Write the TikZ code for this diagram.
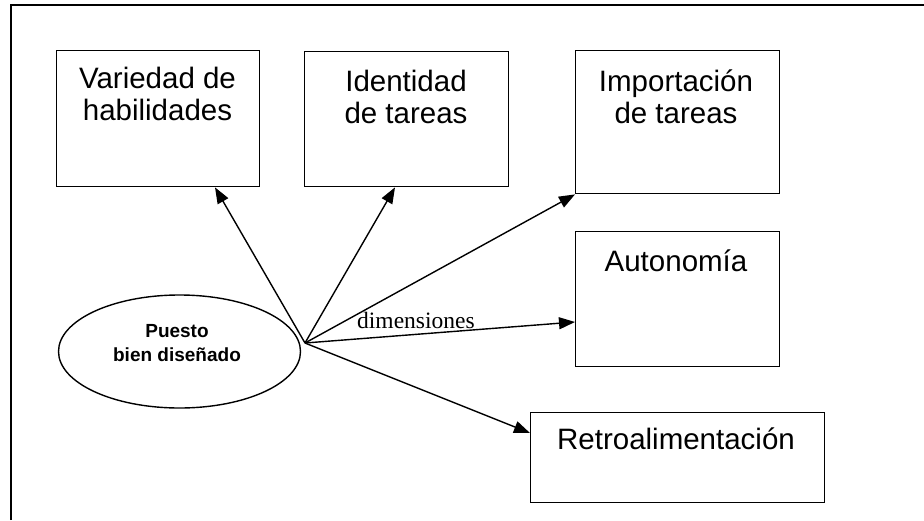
\documentclass[tikz,border=0pt]{standalone}
\usepackage{fontspec}
\setmainfont{Liberation Sans}
\newfontfamily\serifont{Liberation Serif}
\usetikzlibrary{arrows.meta,shapes.geometric}
\begin{document}
\begin{tikzpicture}[x=1pt,y=-1pt,
  box/.style={draw, line width=1.4pt, inner sep=0pt, anchor=north west},
  boxtext/.style={anchor=north, inner sep=0pt, align=center, font=\fontsize{29.5}{32}\selectfont},
  arr/.style={line width=1.4pt, -{Triangle[length=16pt,width=12pt]}}]
\useasboundingbox (0,0) rectangle (924,520);
\draw[line width=1.5pt] (11,520) -- (11,5) -- (924,5);
% boxes
\node[box, minimum width=203pt, minimum height=136pt] (v) at (56,50) {};
\node[box, minimum width=204pt, minimum height=135pt] (i) at (304,51) {};
\node[box, minimum width=204pt, minimum height=143pt] (imp) at (575,50) {};
\node[box, minimum width=204pt, minimum height=135pt] (aut) at (575,231) {};
\node[box, minimum width=294pt, minimum height=90pt] (ret) at (530,412) {};
\node[draw, ellipse, line width=1.4pt, minimum width=242pt, minimum height=113pt, inner sep=0pt] (e) at (179.5,351.5) {};
% texts
\node[boxtext] (vt) at (157.5,66.7) {Variedad de\\habilidades};
\node[boxtext] (it) at (406,70) {Identidad\\de tareas};
\node[boxtext] (impt) at (676,70) {Importación\\de tareas};
\node[boxtext] (autt) at (676,250) {Autonomía};
\node[boxtext] (rett) at (676,428) {Retroalimentación};
\node[anchor=north, inner sep=0pt, align=center, font=\bfseries\fontsize{19}{24}\selectfont] (et) at (177,324) {Puesto\\bien diseñado};
% connectors
\coordinate (hub) at (305,343);
\draw[arr] (hub) -- (215,0 |- v.south);
\draw[arr] (hub) -- (395,0 |- i.south);
\draw[arr] (hub) -- (imp.south west);
\draw[arr] (hub) -- (aut.west |- 0,322);
\draw[arr] (hub) -- (ret.west |- 0,433);
\node[anchor=base west, inner sep=0pt, font=\serifont\fontsize{23.5}{24}\selectfont] (dim) at (357,328) {dimensiones};
\end{tikzpicture}
\end{document}
